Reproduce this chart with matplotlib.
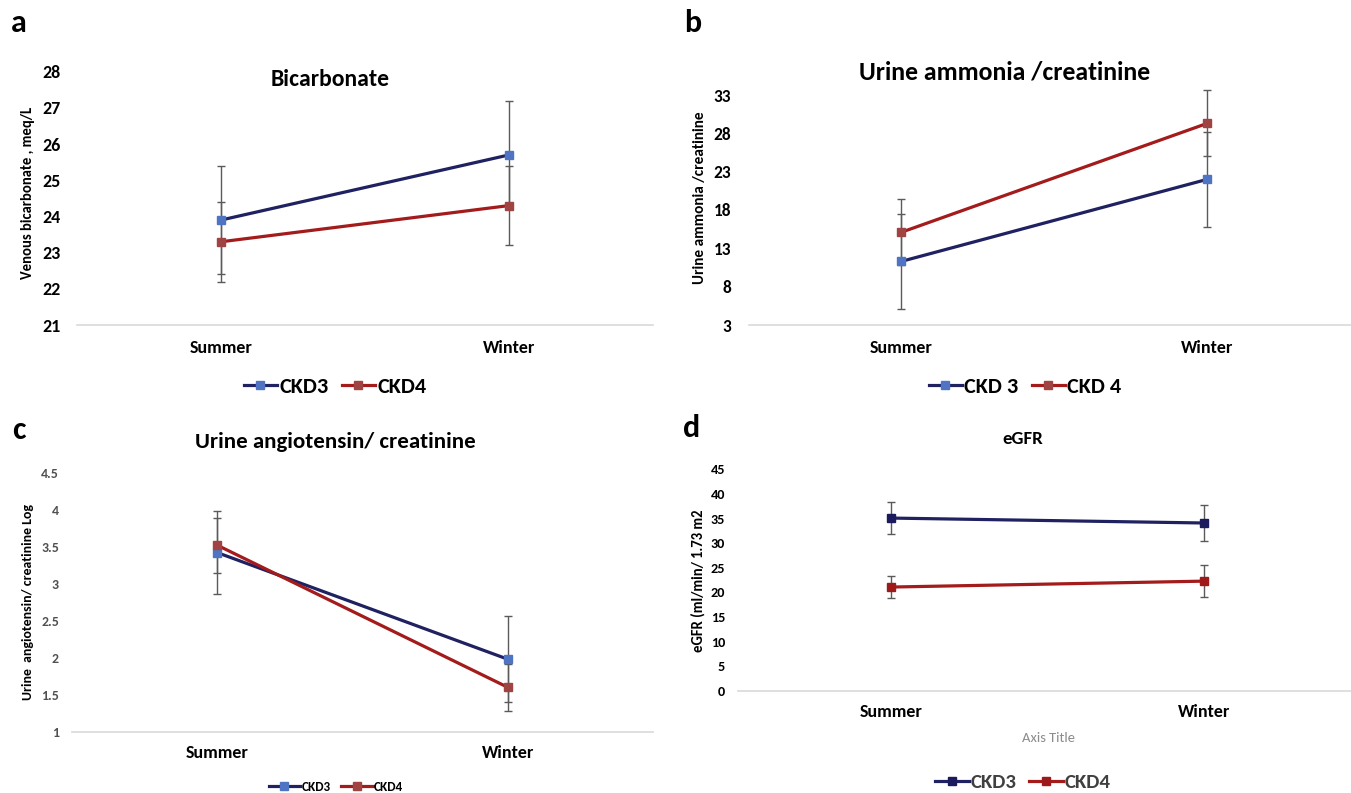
import matplotlib
matplotlib.use("Agg")
import matplotlib.pyplot as plt

plt.rcParams['font.family'] = ['Carlito', 'DejaVu Sans']

W, H = 1351, 793

seasons = ["Summer", "Winter"]

bicarb_ckd3 = [23.9, 25.7]
bicarb_ckd3_err = [1.5, 1.5]
bicarb_ckd4 = [23.3, 24.3]
bicarb_ckd4_err = [1.1, 1.1]
bicarb_ticks = [21, 22, 23, 24, 25, 26, 27, 28]

ammonia_ckd3 = [11.3, 22.0]
ammonia_ckd3_err = [6.2, 6.2]
ammonia_ckd4 = [15.1, 29.3]
ammonia_ckd4_err = [4.3, 4.3]
ammonia_ticks = [3, 8, 13, 18, 23, 28, 33]

angio_ckd3 = [3.42, 1.98]
angio_ckd3_err = [0.56, 0.58]
angio_ckd4 = [3.52, 1.60]
angio_ckd4_err = [0.37, 0.32]
angio_ticks = [1, 1.5, 2, 2.5, 3, 3.5, 4, 4.5]

egfr_ckd3 = [35.1, 34.1]
egfr_ckd3_err = [3.2, 3.6]
egfr_ckd4 = [21.1, 22.3]
egfr_ckd4_err = [2.2, 3.2]
egfr_ticks = [0, 5, 10, 15, 20, 25, 30, 35, 40, 45]

NAVY = "#1f2161"
RED = "#a31b1b"
BLUE_M = "#4f74c4"
RED_M = "#a04343"
NAVY_D = "#1a1a5c"
RED_D = "#9e1a1a"
ERR = "#5a5a5a"

fig = plt.figure(figsize=(W / 100, H / 100), dpi=100)


def add_ax(x0, x1, ytop, ybot):
    return fig.add_axes([x0 / W, 1 - ybot / H, (x1 - x0) / W, (ybot - ytop) / H])


def ftext(x, y, s, **kw):
    fig.text(x / W, 1 - y / H, s, **kw)


def panel(ax, s3, e3, s4, e4, ticks, ylim, xlim, mc3, mc4, tick_fs, tick_col, xfs, ypad, xpad):
    x = list(range(len(seasons)))
    for s, e in ((s3, e3), (s4, e4)):
        eb = ax.errorbar(x, s, yerr=e, fmt='none', ecolor=ERR, elinewidth=1.0, capsize=2.6,
                         capthick=1.0, zorder=1)
        for art in eb.lines[1]:
            art.set_clip_on(False)
        for art in eb.lines[2]:
            art.set_clip_on(False)
    l3, = ax.plot(x, s3, color=NAVY, lw=2.3, marker='s', ms=6.3, mfc=mc3, mec=mc3, zorder=3, clip_on=False)
    l4, = ax.plot(x, s4, color=RED, lw=2.3, marker='s', ms=6.3, mfc=mc4, mec=mc4, zorder=3, clip_on=False)
    ax.set_ylim(*ylim)
    ax.set_xlim(*xlim)
    ax.set_yticks(ticks)
    ax.set_yticklabels([("%g" % t) for t in ticks], fontsize=tick_fs, fontweight='bold', color=tick_col)
    ax.set_xticks(x)
    ax.set_xticklabels(seasons, fontsize=xfs, fontweight='bold')
    for sp in ['top', 'right', 'left']:
        ax.spines[sp].set_visible(False)
    ax.spines['bottom'].set_color('#d9d9d9')
    ax.spines['bottom'].set_linewidth(1.2)
    ax.tick_params(axis='both', length=0)
    ax.tick_params(axis='x', pad=xpad)
    ax.tick_params(axis='y', pad=ypad)
    ax.patch.set_alpha(0)
    return l3, l4


# Panel a
axa = add_ax(77, 653, 71.7, 325)
la3, la4 = panel(axa, bicarb_ckd3, bicarb_ckd3_err, bicarb_ckd4, bicarb_ckd4_err,
                 bicarb_ticks, (21, 28), (-0.5, 1.5), BLUE_M, RED_M, 13, 'black', 13, 11.5, 10.5)
ftext(330, 79, "Bicarbonate", ha='center', va='center', fontsize=17, fontweight='bold')
ftext(28, 193, "Venous bicarbonate , meq/L", ha='center', va='center', rotation=90, fontsize=10.5, fontweight='bold')
ftext(19, 23, "a", ha='center', va='center', fontsize=23, fontweight='bold')
fig.legend([la3, la4], ["CKD3", "CKD4"], loc='center', bbox_to_anchor=(335 / W, 1 - 387 / H),
           ncol=2, frameon=False, prop={'weight': 'bold', 'size': 16}, handlelength=1.5,
           columnspacing=0.6, handletextpad=0.1)

# Panel b
axb = add_ax(748.5, W, 95, 325)
lb3, lb4 = panel(axb, ammonia_ckd3, ammonia_ckd3_err, ammonia_ckd4, ammonia_ckd4_err,
                 ammonia_ticks, (3, 33), (-0.5, 1.47), BLUE_M, RED_M, 12.5, 'black', 13, 12.5, 10.5)
ftext(1005, 72, "Urine ammonia /creatinine", ha='center', va='center', fontsize=18.5, fontweight='bold')
ftext(700, 198, "Urine ammonia /creatinine", ha='center', va='center', rotation=90, fontsize=11, fontweight='bold')
ftext(693, 23, "b", ha='center', va='center', fontsize=23, fontweight='bold')
fig.legend([lb3, lb4], ["CKD 3", "CKD 4"], loc='center', bbox_to_anchor=(1025 / W, 1 - 387 / H),
           ncol=2, frameon=False, prop={'weight': 'bold', 'size': 16}, handlelength=1.5,
           columnspacing=0.6, handletextpad=0.1)

# Panel c
axc = add_ax(72, 653, 472.7, 731.7)
lc3, lc4 = panel(axc, angio_ckd3, angio_ckd3_err, angio_ckd4, angio_ckd4_err,
                 angio_ticks, (1, 4.5), (-0.5, 1.5), BLUE_M, RED_M, 10, '#505050', 13, 9.4, 9.5)
ftext(335, 442, "Urine angiotensin/ creatinine", ha='center', va='center', fontsize=16.5, fontweight='bold')
ftext(28, 602, "Urine  angiotensin/ creatinine Log", ha='center', va='center', rotation=90, fontsize=10, fontweight='bold')
ftext(19, 430, "c", ha='center', va='center', fontsize=23, fontweight='bold')
fig.legend([lc3, lc4], ["CKD3", "CKD4"], loc='center', bbox_to_anchor=(336 / W, 1 - 787 / H),
           ncol=2, frameon=False, prop={'weight': 'bold', 'size': 9.5}, handlelength=2.4,
           columnspacing=0.8, handletextpad=0.1, markerscale=0.85)

# Panel d
axd = add_ax(738, W, 469.3, 691)
ld3, ld4 = panel(axd, egfr_ckd3, egfr_ckd3_err, egfr_ckd4, egfr_ckd4_err,
                 egfr_ticks, (0, 45), (-0.49, 1.47), NAVY_D, RED_D, 10.3, 'black', 13, 9.4, 9.5)
ftext(1023, 439, "eGFR", ha='center', va='center', fontsize=13.5, fontweight='bold')
ftext(698, 581, "eGFR (ml/min/ 1.73 m2", ha='center', va='center', rotation=90, fontsize=10.5, fontweight='bold')
ftext(1049, 738, "Axis Title", ha='center', va='center', fontsize=10.5, color='#8c8c8c')
ftext(692, 428, "d", ha='center', va='center', fontsize=23, fontweight='bold')
fig.legend([ld3, ld4], ["CKD3", "CKD4"], loc='center', bbox_to_anchor=(1023 / W, 1 - 782 / H),
           ncol=2, frameon=False, prop={'weight': 'bold', 'size': 15}, handlelength=1.6,
           columnspacing=0.6, handletextpad=0.1, labelcolor='#404040')

fig.savefig("out.png", dpi=100, facecolor='white')
